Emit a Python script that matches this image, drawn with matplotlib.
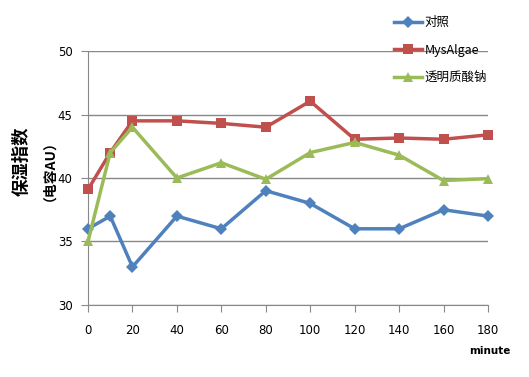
import matplotlib.pyplot as plt

minutes = [0, 10, 20, 40, 60, 80, 100, 120, 140, 160, 180]
control = [36, 37, 33, 37, 36, 39, 38, 36, 36, 37.5, 37]
mysalgae = [39.1, 42, 44.5, 44.5, 44.3, 44, 46.05, 43.05, 43.15, 43.05, 43.4]
hyaluronate = [35, 42, 44, 40, 41.2, 39.9, 42, 42.8, 41.8, 39.8, 39.95]

series_names = ["对照", "MysAlgae", "透明质酸钠"]
colors = ["#4F81BD", "#C0504D", "#9BBB59"]
markers = ["D", "s", "^"]
marker_sizes = [6, 7, 7.5]

cjk = ["Noto Sans CJK SC", "DejaVu Sans"]
plt.rcParams["font.family"] = ["DejaVu Sans", "Noto Sans CJK SC"]

fig = plt.figure(figsize=(5.29, 3.77), dpi=100)
ax = fig.add_axes([88 / 529, 1 - 305 / 377, 400 / 529, 254 / 377])

for vals, name, c, m, ms in zip([control, mysalgae, hyaluronate], series_names, colors, markers, marker_sizes):
    ax.plot(minutes, vals, color=c, marker=m, markersize=ms, linewidth=2.5,
            label=name, markeredgewidth=0, clip_on=False, zorder=3)

ax.set_xlim(0, 180)
ax.set_ylim(30, 50)
ax.set_xticks(range(0, 181, 20))
ax.set_yticks(range(30, 51, 5))
ax.grid(axis="y", color="#888888", linewidth=1)
ax.set_axisbelow(True)
for s in ["top", "right"]:
    ax.spines[s].set_visible(False)
for s in ["left", "bottom"]:
    ax.spines[s].set_color("#888888")
ax.tick_params(axis="both", color="#888888", length=5, labelsize=8.5, pad=6)
ax.tick_params(axis="x", pad=9)

fig.text(22 / 529, 1 - 161 / 377, "保湿指数", rotation=90, ha="center", va="center",
         fontsize=12.5, fontweight="bold", family=cjk)
fig.text(42 / 529, 1 - 164 / 377, "（电容AU）", rotation=90, ha="center", va="center",
         fontsize=10, fontweight="bold", family=cjk)
fig.text(490 / 529, 1 - 351 / 377, "minute", ha="center", va="center",
         fontsize=7.5, fontweight="bold")

leg = fig.legend(loc="upper left", bbox_to_anchor=(383 / 529, 1 - 5 / 377), frameon=False,
                 prop={"family": cjk, "size": 9},
                 handlelength=2.2, handletextpad=0.2, labelspacing=1.15)

fig.savefig("out.png", dpi=100)
